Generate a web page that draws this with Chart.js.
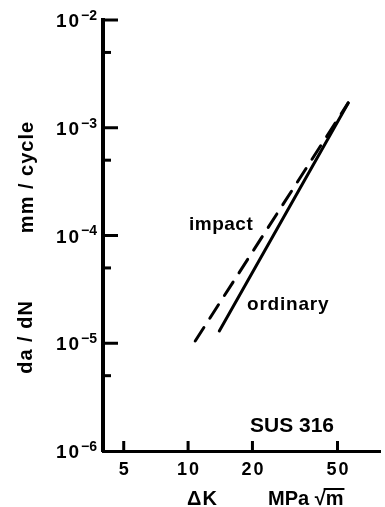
<!DOCTYPE html>
<html>
<head>
<meta charset="utf-8">
<script src="https://cdn.jsdelivr.net/npm/chart.js@4"></script>
<style>
html,body{margin:0;padding:0;background:#fff;}
canvas{display:block;}
</style>
</head>
<body>
<canvas id="c" width="385" height="507"></canvas>
<script>
// ---- data ----
const impactK = [10.8, 56.1];
const impactRate = [1.05e-5, 1.70e-3];
const ordinaryK = [14.0, 56.1];
const ordinaryRate = [1.30e-5, 1.70e-3];
const xTickValues = [5, 10, 20, 50];
const xTickLabels = ['5', '10', '20', '50'];
const yMajorValues = [1e-2, 1e-3, 1e-4, 1e-5, 1e-6];
const yMajorExponents = ['-2', '-3', '-4', '-5', '-6'];
const yMinorValues = [5e-3, 5e-4, 5e-5, 5e-6];
const seriesNames = ['impact', 'ordinary'];
const yTitleTop = 'mm / cycle';
const yTitleBottom = 'da / dN';
const xTitleLeft = 'ΔK';
const xTitleRight = 'MPa √m';
const materialLabel = 'SUS 316';

const FONT = '"Liberation Sans", Arial, sans-serif';

function pts(xs, ys) { return xs.map((x, i) => ({x: x, y: ys[i]})); }

const decor = {
  id: 'decor',
  afterDraw(chart) {
    const ctx = chart.ctx;
    const xs = chart.scales.x, ys = chart.scales.y;
    const left = chart.chartArea.left, bottom = chart.chartArea.bottom;
    ctx.save();
    ctx.strokeStyle = '#000';
    ctx.fillStyle = '#000';
    ctx.lineCap = 'butt';
    // y ticks (inward)
    ctx.lineWidth = 3;
    yMajorValues.forEach((v, i) => {
      const py = ys.getPixelForValue(v);
      if (i < yMajorValues.length - 1) {
        ctx.beginPath(); ctx.moveTo(left, py); ctx.lineTo(left + 15, py); ctx.stroke();
      }
      // label 10^exp
      ctx.textBaseline = 'middle';
      ctx.font = 'bold 14px ' + FONT;
      ctx.letterSpacing = '0px';
      const supW = ctx.measureText(yMajorExponents[i].replace('-', '−')).width;
      ctx.font = 'bold 19px ' + FONT;
      ctx.letterSpacing = '2px';
      const baseW = ctx.measureText('10').width;
      const right = 97;
      ctx.textAlign = 'left';
      ctx.fillText('10', right - supW - baseW, py + 2);
      ctx.letterSpacing = '0px';
      ctx.font = 'bold 14px ' + FONT;
      ctx.fillText(yMajorExponents[i].replace('-', '−'), right - supW, py - 4);
    });
    yMinorValues.forEach(v => {
      const py = ys.getPixelForValue(v);
      ctx.beginPath(); ctx.moveTo(left, py); ctx.lineTo(left + 8, py); ctx.stroke();
    });
    // x ticks (inward, up)
    ctx.font = 'bold 18px ' + FONT;
    ctx.letterSpacing = '2px';
    ctx.textAlign = 'center';
    ctx.textBaseline = 'middle';
    xTickValues.forEach((v, i) => {
      const px = xs.getPixelForValue(v);
      ctx.beginPath(); ctx.moveTo(px, bottom); ctx.lineTo(px, bottom - 10); ctx.stroke();
      ctx.fillText(xTickLabels[i], px + 1, 470);
    });
    ctx.letterSpacing = '0px';
    // axis titles
    ctx.font = 'bold 20px ' + FONT;
    ctx.textAlign = 'left';
    ctx.textBaseline = 'alphabetic';
    ctx.letterSpacing = '1px';
    ctx.fillText(xTitleLeft, 187, 505);
    ctx.letterSpacing = '0px';
    const mx = 268;
    ctx.fillText(xTitleRight, mx, 505);
    // overline of the radical over "m"
    const wBefore = ctx.measureText(xTitleRight.slice(0, -1)).width;
    const wM = ctx.measureText('m').width;
    ctx.lineWidth = 2;
    ctx.beginPath(); ctx.moveTo(mx + wBefore - 2, 489); ctx.lineTo(mx + wBefore + wM + 1, 489); ctx.stroke();
    // rotated y titles
    ctx.textAlign = 'center';
    ctx.textBaseline = 'middle';
    ctx.letterSpacing = '1px';
    [[yTitleTop, 27, 177], [yTitleBottom, 26, 337]].forEach(([t, x, y]) => {
      ctx.save(); ctx.translate(x, y); ctx.rotate(-Math.PI / 2); ctx.fillText(t, 0, 0); ctx.restore();
    });
    ctx.letterSpacing = '0px';
    // series labels and material
    ctx.textAlign = 'left';
    ctx.textBaseline = 'alphabetic';
    ctx.font = 'bold 19px ' + FONT;
    ctx.letterSpacing = '0.5px';
    ctx.fillText(seriesNames[0], 189, 230);
    ctx.letterSpacing = '0.8px';
    ctx.fillText(seriesNames[1], 247, 310);
    ctx.letterSpacing = '0px';
    ctx.font = 'bold 21px ' + FONT;
    ctx.fillText(materialLabel, 250, 432);
    ctx.restore();
  }
};

new Chart(document.getElementById('c'), {
  type: 'scatter',
  data: {
    datasets: [
      {
        label: seriesNames[0],
        data: pts(impactK, impactRate),
        showLine: true,
        borderColor: '#000',
        borderWidth: 3,
        borderDash: [16, 11],
        borderCapStyle: 'round',
        pointRadius: 0,
        fill: false
      },
      {
        label: seriesNames[1],
        data: pts(ordinaryK, ordinaryRate),
        showLine: true,
        borderColor: '#000',
        borderWidth: 3,
        borderCapStyle: 'round',
        pointRadius: 0,
        fill: false
      }
    ]
  },
  options: {
    responsive: false,
    animation: false,
    devicePixelRatio: 1,
    layout: { padding: { top: 20, right: 5, left: 0, bottom: 0 } },
    plugins: { legend: { display: false }, tooltip: { enabled: false } },
    scales: {
      x: {
        type: 'logarithmic',
        min: 4, max: 79,
        grid: { display: false },
        ticks: { display: false },
        border: { display: true, width: 3, color: '#000' },
        afterFit(s) { s.height = 56; }
      },
      y: {
        type: 'logarithmic',
        min: 1e-6, max: 1e-2,
        grid: { display: false },
        ticks: { display: false },
        border: { display: true, width: 4, color: '#000' },
        afterFit(s) { s.width = 103; }
      }
    }
  },
  plugins: [decor]
});
</script>
</body>
</html>
